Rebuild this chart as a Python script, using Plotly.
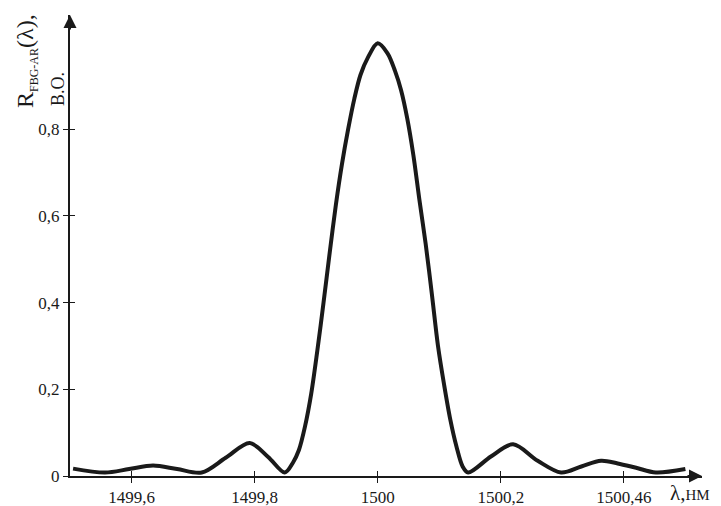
import plotly.graph_objects as go

# Wavelength (nm) and reflectance
wavelength = [
    1499.505, 1499.557, 1499.596, 1499.635, 1499.674, 1499.714, 1499.753,
    1499.792, 1499.822, 1499.849, 1499.862, 1499.872, 1499.882, 1499.892,
    1499.902, 1499.912, 1499.922, 1499.932, 1499.942, 1499.952, 1499.962,
    1499.972, 1499.984, 1500.000, 1500.016, 1500.028, 1500.038, 1500.048,
    1500.058, 1500.068, 1500.078, 1500.088, 1500.098, 1500.108, 1500.118,
    1500.128, 1500.138, 1500.147, 1500.184, 1500.220, 1500.260, 1500.298,
    1500.331, 1500.363, 1500.390, 1500.420, 1500.452, 1500.500,
]
reflectance = [
    0.017, 0.008, 0.016, 0.024, 0.016, 0.008, 0.042,
    0.076, 0.044, 0.008, 0.030, 0.060, 0.115, 0.190,
    0.290, 0.400, 0.515, 0.625, 0.720, 0.800, 0.870,
    0.925, 0.965, 0.998, 0.975, 0.935, 0.890, 0.825,
    0.740, 0.635, 0.535, 0.420, 0.300, 0.210, 0.130,
    0.068, 0.022, 0.008, 0.045, 0.073, 0.035, 0.008,
    0.022, 0.035, 0.029, 0.019, 0.008, 0.016,
]

x_tickvals = [1499.6, 1499.8, 1500.0, 1500.2, 1500.4]
x_ticktext = ["1499,6", "1499,8", "1500", "1500,2", "1500,46"]
y_tickvals = [0, 0.2, 0.4, 0.6, 0.8]
y_ticktext = ["0", "0,2", "0,4", "0,6", "0,8"]

x_range = [1499.5, 1500.527]
y_range = [0, 1.0634]

INK = "#1a1a1a"
SERIF = "Liberation Serif"

fig = go.Figure()
fig.add_trace(go.Scatter(
    x=wavelength, y=reflectance, mode="lines",
    line=dict(color=INK, width=4, shape="spline", smoothing=0.9),
    cliponaxis=False, showlegend=False, hoverinfo="skip",
))
# empty trace carrying the overlay axes (inner half of crossing ticks)
fig.add_trace(go.Scatter(x=[], y=[], xaxis="x2", yaxis="y2", showlegend=False))

common_tick = dict(tickcolor=INK, tickwidth=1, ticklen=5, showgrid=False,
                   zeroline=False, automargin=False)

# the page body has an 8px margin, so the figure is 8px smaller than the window
fig.update_layout(
    width=713, height=498,
    margin=dict(l=62, r=19, t=7, b=30),
    paper_bgcolor="white", plot_bgcolor="white",
    font=dict(family=SERIF, color=INK, size=17),
    xaxis=dict(range=x_range, showline=True, linecolor=INK, linewidth=2,
               ticks="outside", tickvals=x_tickvals, ticktext=x_ticktext,
               tickfont=dict(family=SERIF, size=17, color=INK), **common_tick),
    yaxis=dict(range=y_range, showline=True, linecolor=INK, linewidth=2,
               ticks="outside", tickvals=y_tickvals, ticktext=y_ticktext,
               tickfont=dict(family=SERIF, size=17, color=INK), **common_tick),
    xaxis2=dict(range=x_range, overlaying="x", anchor="y", side="bottom",
                ticks="inside", tickvals=x_tickvals, showticklabels=False,
                showline=False, **common_tick),
    yaxis2=dict(range=y_range, overlaying="y", anchor="x", side="left",
                ticks="inside", tickvals=y_tickvals, showticklabels=False,
                showline=False, **common_tick),
)

annotations = [
    # arrow heads on the axes
    dict(x=x_range[1], y=0, xref="x", yref="y", ax=-16, ay=0, text="",
         showarrow=True, arrowhead=2, arrowsize=1.3, arrowwidth=2, arrowcolor=INK),
    dict(x=x_range[0], y=y_range[1], xref="x", yref="y", ax=0, ay=16, text="",
         showarrow=True, arrowhead=2, arrowsize=1.3, arrowwidth=2, arrowcolor=INK),
    # x axis title
    dict(x=(668 - 70) / 632, y=(476 - 493) / 461, xref="paper", yref="paper",
         text="λ,<span style='font-size:15px'>НМ</span>", showarrow=False,
         font=dict(family=SERIF, size=21, color=INK), xanchor="left", yanchor="middle"),
    # y axis title, first line
    dict(x=(26 - 70) / 632, y=(476 - 110) / 461, xref="paper", yref="paper",
         text="R<sub><span style='font-size:12px'>FBG-AR</span></sub>(λ),",
         textangle=-90, showarrow=False,
         font=dict(family=SERIF, size=24, color=INK), xanchor="center", yanchor="bottom"),
    # y axis title, second line
    dict(x=(58 - 70) / 632, y=(476 - 108) / 461, xref="paper", yref="paper",
         text="В.О.", textangle=-90, showarrow=False,
         font=dict(family=SERIF, size=18, color=INK), xanchor="center", yanchor="bottom"),
]
fig.update_layout(annotations=annotations)

fig.write_html("out.html")
